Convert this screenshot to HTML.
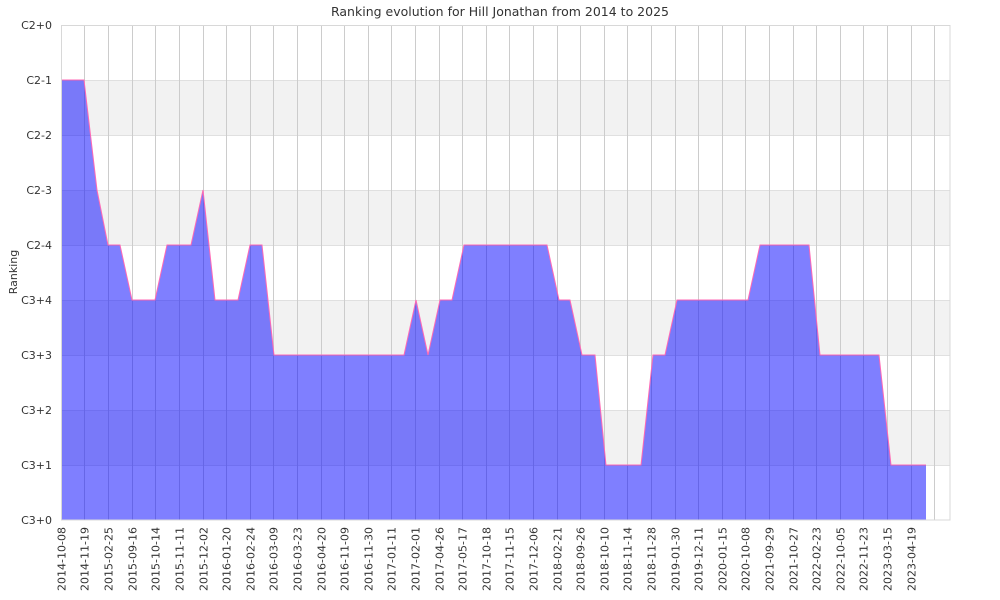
<!DOCTYPE html>
<html><head><meta charset="utf-8"><style>body{margin:0;background:#fff}svg{display:block;font-family:"DejaVu Sans","Liberation Sans",sans-serif}</style></head>
<body>
<svg width="1000" height="600" xmlns="http://www.w3.org/2000/svg">
<text x="500" y="16" font-size="12.5" text-anchor="middle" fill="#333">Ranking evolution for Hill Jonathan from 2014 to 2025</text>
<g fill="#f2f2f2">
<rect x="61" y="80" width="889" height="55"/><rect x="61" y="190" width="889" height="55"/><rect x="61" y="300" width="889" height="55"/><rect x="61" y="410" width="889" height="55"/>
</g>
<g stroke="#e0e0e0" stroke-width="1">
<line x1="61" x2="950" y1="25.5" y2="25.5"/><line x1="61" x2="950" y1="80.5" y2="80.5"/><line x1="61" x2="950" y1="135.5" y2="135.5"/><line x1="61" x2="950" y1="190.5" y2="190.5"/><line x1="61" x2="950" y1="245.5" y2="245.5"/><line x1="61" x2="950" y1="300.5" y2="300.5"/><line x1="61" x2="950" y1="355.5" y2="355.5"/><line x1="61" x2="950" y1="410.5" y2="410.5"/><line x1="61" x2="950" y1="465.5" y2="465.5"/>
</g>
<g stroke="#cccccc" stroke-width="1">
<path d="M61.5 25V520M84.5 25V520M108.5 25V520M132.5 25V520M155.5 25V520M179.5 25V520M203.5 25V520M226.5 25V520M250.5 25V520M273.5 25V520M297.5 25V520M321.5 25V520M344.5 25V520M368.5 25V520M391.5 25V520M415.5 25V520M439.5 25V520M462.5 25V520M486.5 25V520M509.5 25V520M533.5 25V520M557.5 25V520M580.5 25V520M604.5 25V520M627.5 25V520M651.5 25V520M675.5 25V520M698.5 25V520M722.5 25V520M745.5 25V520M769.5 25V520M793.5 25V520M816.5 25V520M840.5 25V520M863.5 25V520M887.5 25V520M911.5 25V520M934.5 25V520"/>
</g>
<polygon fill="rgba(0,0,255,0.5)" points="61,520 61,80 84,80 97,190 108,245 120,245 132,300 155,300 167,245 191,245 203,190 215,300 238,300 250,245 262,245 274,355 404,355 416,300 428,355 440,300 452,300 464,245 547,245 559,300 570,300 582,355 595,355 606,465 641,465 653,355 665,355 677,300 748,300 760,245 809,245 820,355 879,355 891,465 926,465 926,520"/>
<polyline fill="none" stroke="#ff69b4" stroke-width="1" points="61,80 84,80 97,190 108,245 120,245 132,300 155,300 167,245 191,245 203,190 215,300 238,300 250,245 262,245 274,355 404,355 416,300 428,355 440,300 452,300 464,245 547,245 559,300 570,300 582,355 595,355 606,465 641,465 653,355 665,355 677,300 748,300 760,245 809,245 820,355 879,355 891,465 926,465"/>
<rect x="61.5" y="25.5" width="888.5" height="494.5" fill="none" stroke="#d8d8d8"/>
<g font-size="11" fill="#333" text-anchor="end">
<text x="52" y="29">C2+0</text><text x="52" y="84">C2-1</text><text x="52" y="139">C2-2</text><text x="52" y="194">C2-3</text><text x="52" y="249">C2-4</text><text x="52" y="304">C3+4</text><text x="52" y="359">C3+3</text><text x="52" y="414">C3+2</text><text x="52" y="469">C3+1</text><text x="52" y="524">C3+0</text>
</g>
<text transform="translate(17,272) rotate(-90)" font-size="11" fill="#333" text-anchor="middle">Ranking</text>
<g font-size="11" fill="#333" text-anchor="end">
<text transform="translate(65.5,527) rotate(-90)">2014-10-08</text>
<text transform="translate(88.5,527) rotate(-90)">2014-11-19</text>
<text transform="translate(112.5,527) rotate(-90)">2015-02-25</text>
<text transform="translate(136.5,527) rotate(-90)">2015-09-16</text>
<text transform="translate(159.5,527) rotate(-90)">2015-10-14</text>
<text transform="translate(183.5,527) rotate(-90)">2015-11-11</text>
<text transform="translate(207.5,527) rotate(-90)">2015-12-02</text>
<text transform="translate(230.5,527) rotate(-90)">2016-01-20</text>
<text transform="translate(254.5,527) rotate(-90)">2016-02-24</text>
<text transform="translate(277.5,527) rotate(-90)">2016-03-09</text>
<text transform="translate(301.5,527) rotate(-90)">2016-03-23</text>
<text transform="translate(325.5,527) rotate(-90)">2016-04-20</text>
<text transform="translate(348.5,527) rotate(-90)">2016-11-09</text>
<text transform="translate(372.5,527) rotate(-90)">2016-11-30</text>
<text transform="translate(395.5,527) rotate(-90)">2017-01-11</text>
<text transform="translate(419.5,527) rotate(-90)">2017-02-01</text>
<text transform="translate(443.5,527) rotate(-90)">2017-04-26</text>
<text transform="translate(466.5,527) rotate(-90)">2017-05-17</text>
<text transform="translate(490.5,527) rotate(-90)">2017-10-18</text>
<text transform="translate(513.5,527) rotate(-90)">2017-11-15</text>
<text transform="translate(537.5,527) rotate(-90)">2017-12-06</text>
<text transform="translate(561.5,527) rotate(-90)">2018-02-21</text>
<text transform="translate(584.5,527) rotate(-90)">2018-09-26</text>
<text transform="translate(608.5,527) rotate(-90)">2018-10-10</text>
<text transform="translate(631.5,527) rotate(-90)">2018-11-14</text>
<text transform="translate(655.5,527) rotate(-90)">2018-11-28</text>
<text transform="translate(679.5,527) rotate(-90)">2019-01-30</text>
<text transform="translate(702.5,527) rotate(-90)">2019-12-11</text>
<text transform="translate(726.5,527) rotate(-90)">2020-01-15</text>
<text transform="translate(749.5,527) rotate(-90)">2020-10-08</text>
<text transform="translate(773.5,527) rotate(-90)">2021-09-29</text>
<text transform="translate(797.5,527) rotate(-90)">2021-10-27</text>
<text transform="translate(820.5,527) rotate(-90)">2022-02-23</text>
<text transform="translate(844.5,527) rotate(-90)">2022-10-05</text>
<text transform="translate(867.5,527) rotate(-90)">2022-11-23</text>
<text transform="translate(891.5,527) rotate(-90)">2023-03-15</text>
<text transform="translate(915.5,527) rotate(-90)">2023-04-19</text>
</g>
</svg>
</body></html>
